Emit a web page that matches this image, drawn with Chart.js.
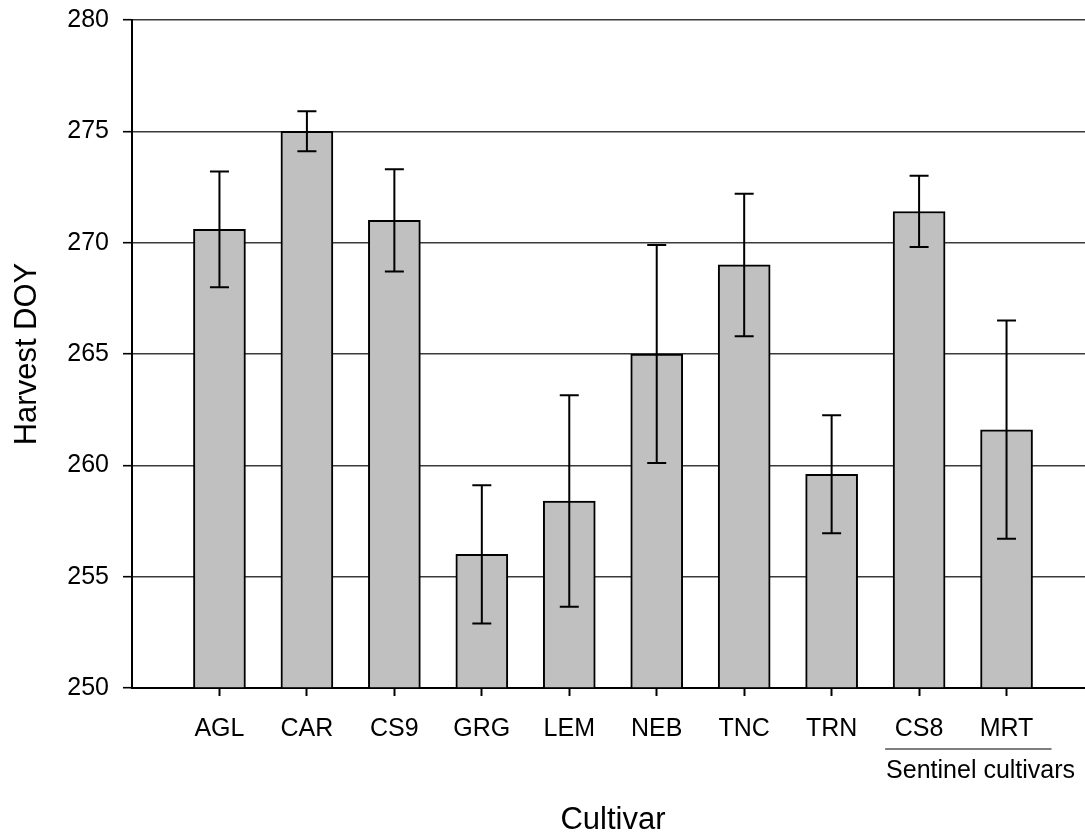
<!DOCTYPE html>
<html>
<head>
<meta charset="utf-8">
<script src="https://cdn.jsdelivr.net/npm/chart.js@4.4.0/dist/chart.umd.min.js"></script>
<style>
html,body{margin:0;padding:0;background:#fff;overflow:hidden;width:1085px;height:836px}
#wrap{position:relative;width:1094px;height:836px}
</style>
</head>
<body>
<div id="wrap"><canvas id="c" width="1094" height="836"></canvas></div>
<script>
// ---- data ----
const categories = ['AGL','CAR','CS9','GRG','LEM','NEB','TNC','TRN','CS8','MRT'];
const harvestDOY = [270.6, 275.0, 271.0, 256.0, 258.4, 265.0, 269.0, 259.6, 271.4, 261.6];
const errorDOY   = [2.6, 0.9, 2.3, 3.1, 4.75, 4.9, 3.2, 2.65, 1.6, 4.9];
const yTicks     = [250, 255, 260, 265, 270, 275, 280];
const sentinelGroup = ['CS8','MRT'];
const sentinelLabel = 'Sentinel cultivars';
const xTitle = 'Cultivar';
const yTitle = 'Harvest DOY';

const FONT = "'Liberation Sans', Arial, sans-serif";
const yMin = yTicks[0], yMax = yTicks[yTicks.length-1];
const paddedLabels = [''].concat(categories, ['']);
const paddedValues = [null].concat(harvestDOY, [null]);

const errorBars = {
  id: 'errorBars',
  afterDatasetsDraw(chart) {
    const {ctx, scales: {x, y}} = chart;
    ctx.save();
    ctx.strokeStyle = '#000';
    ctx.lineWidth = 2;
    categories.forEach((c, i) => {
      const px = x.getPixelForValue(i + 1);
      const top = y.getPixelForValue(harvestDOY[i] + errorDOY[i]);
      const bot = y.getPixelForValue(harvestDOY[i] - errorDOY[i]);
      ctx.beginPath();
      ctx.moveTo(px, top); ctx.lineTo(px, bot);
      ctx.moveTo(px - 9.5, top); ctx.lineTo(px + 9.5, top);
      ctx.moveTo(px - 9.5, bot); ctx.lineTo(px + 9.5, bot);
      ctx.stroke();
    });
    ctx.restore();
  }
};

const sentinel = {
  id: 'sentinel',
  afterDraw(chart) {
    const {ctx, scales: {x, y}} = chart;
    const i1 = categories.indexOf(sentinelGroup[0]) + 1;
    const i2 = categories.indexOf(sentinelGroup[sentinelGroup.length-1]) + 1;
    const x1 = x.getPixelForValue(i1) - 34;
    const x2 = x.getPixelForValue(i2) + 45;
    const yl = y.bottom + 61;
    ctx.save();
    ctx.strokeStyle = '#555';
    ctx.lineWidth = 1.5;
    ctx.beginPath(); ctx.moveTo(x1, yl); ctx.lineTo(x2, yl); ctx.stroke();
    ctx.font = '25px ' + FONT;
    ctx.fillStyle = '#000';
    ctx.textAlign = 'left';
    ctx.textBaseline = 'alphabetic';
    ctx.fillText(sentinelLabel, x1 + 1, y.bottom + 90);
    ctx.restore();
  }
};

new Chart(document.getElementById('c'), {
  type: 'bar',
  data: {
    labels: paddedLabels,
    datasets: [{
      data: paddedValues,
      backgroundColor: '#c0c0c0',
      borderColor: '#000',
      borderWidth: 2,
      barThickness: 52,
      base: yMin
    }]
  },
  options: {
    responsive: false,
    animation: false,
    devicePixelRatio: 1,
    layout: {padding: {top: 20, left: 0, right: 0, bottom: 0}},
    plugins: {legend: {display: false}, tooltip: {enabled: false}},
    scales: {
      x: {
        type: 'category',
        offset: false,
        grid: {
          offset: false,
          drawOnChartArea: false,
          drawTicks: true,
          tickLength: 8,
          tickWidth: 2,
          tickColor: (ctx) => paddedLabels[ctx.index] ? '#000' : 'rgba(0,0,0,0)'
        },
        border: {display: true, color: '#000', width: 2},
        ticks: {color: '#000', font: {family: FONT, size: 25}, padding: 18, maxRotation: 0, autoSkip: false},
        title: {display: true, text: xTitle, color: '#000', font: {family: FONT, size: 31, lineHeight: 1}, padding: {top: 0, bottom: 0}},
        afterFit(s) { s.height = 148; s.paddingLeft = 0; s.paddingRight = 0; }
      },
      y: {
        min: yMin,
        max: yMax,
        afterBuildTicks(s) { s.ticks = yTicks.map(v => ({value: v})); },
        grid: {color: '#3a3a3a', lineWidth: 1.4, tickLength: 9, tickColor: '#000', tickWidth: 1.6},
        border: {display: true, color: '#000', width: 2},
        ticks: {color: '#000', font: {family: FONT, size: 25}, padding: 14},
        title: {display: true, text: yTitle, color: '#000', font: {family: FONT, size: 31, lineHeight: 1}, padding: {top: 12, bottom: 0}},
        afterFit(s) { s.width = 132; s.paddingTop = 0; s.paddingBottom = 0; }
      }
    }
  },
  plugins: [errorBars, sentinel]
});
</script>
</body>
</html>
